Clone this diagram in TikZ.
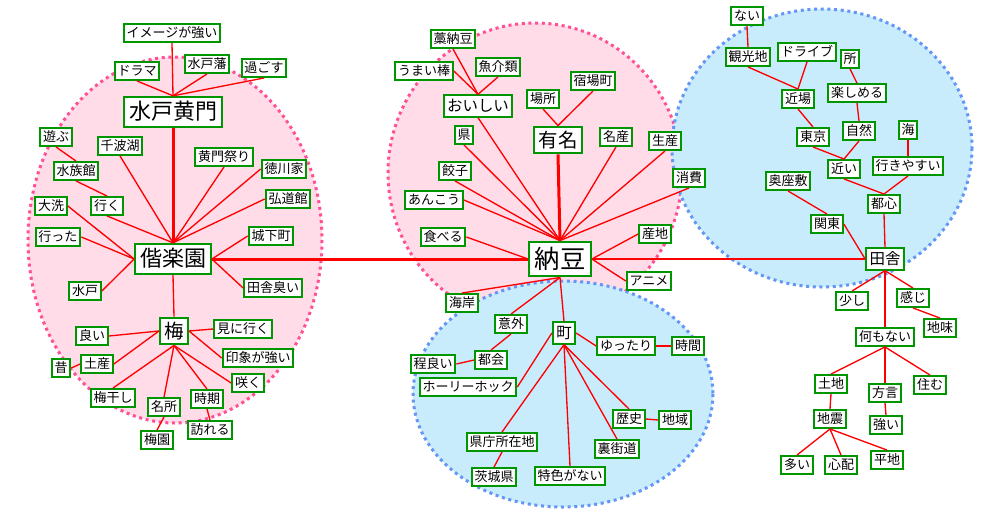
\documentclass[tikz,border=0pt]{standalone}
\usepackage{fontspec}
\setmainfont{Noto Sans CJK JP}
\usepackage{tikz}
\usetikzlibrary{shapes.geometric}
\definecolor{mygreen}{RGB}{0,150,0}
\definecolor{myred}{RGB}{255,0,0}
\definecolor{mypink}{RGB}{255,80,150}
\definecolor{myblue}{RGB}{100,150,245}
\definecolor{hdrpink}{RGB}{255,220,232}
\definecolor{hdrblue}{RGB}{200,236,252}
\tikzset{
  wordbox/.style={rectangle, draw=mygreen, fill=white, line width=1.5pt,
    font=\fontsize{#1}{#1}\selectfont, inner xsep=0.22*#1, inner ysep=0.19*#1,
    text height=0.86*#1, text depth=0.14*#1},
  word/.style={wordbox=9.75pt},
  subhub/.style={wordbox=11.6pt},
  hub/.style={wordbox=14.6pt},
  bighub/.style={wordbox=16.5pt},
  tophub/.style={wordbox=19pt},
  link/.style={color=myred, line width=1pt},
  strong/.style={color=myred, line width=2.25pt},
  pinkgroup/.style={draw=mypink, fill=hdrpink, line width=2.25pt,
    dash pattern=on 2.25pt off 2.75pt},
  bluegroup/.style={draw=myblue, fill=hdrblue, line width=2.25pt,
    dash pattern=on 2.25pt off 2.75pt}
}
\begin{document}
\begin{tikzpicture}[x=0.75pt, y=-0.75pt]
  % canvas
  \fill[white] (0,0) rectangle (1000,519);
  \useasboundingbox (0,0) rectangle (1000,519);

  % communities
  \draw[pinkgroup] (175,240) ellipse [x radius=147, y radius=183];
  \draw[pinkgroup] (535,173) ellipse [x radius=147, y radius=150];
  \draw[bluegroup] (822,148) ellipse [x radius=150, y radius=139];
  \draw[bluegroup] (563,394) ellipse [x radius=150, y radius=113];

  % left group
  \node[word] (ime) at (172,33) {イメージが強い};
  \node[word] (dorama) at (137,71) {ドラマ};
  \node[word] (mitohan) at (207,64) {水戸藩};
  \node[word] (sugosu) at (264,68) {過ごす};
  \node[bighub] (komon) at (173,112) {水戸黄門};
  \node[word] (asobu) at (56,137) {遊ぶ};
  \node[word] (senba) at (120,146) {千波湖};
  \node[word] (matsuri) at (224,157) {黄門祭り};
  \node[word] (tokugawa) at (284,169) {徳川家};
  \node[word] (suizoku) at (76,171) {水族館};
  \node[word] (oarai) at (51,206) {大洗};
  \node[word] (iku) at (107,206) {行く};
  \node[word] (kodokan) at (288,199) {弘道館};
  \node[word] (jokamachi) at (271,236) {城下町};
  \node[word] (itta) at (58,237) {行った};
  \node[bighub] (kairaku) at (173,259) {偕楽園};
  \node[word] (mito) at (85,291) {水戸};
  \node[word] (inakakusai) at (273,288) {田舎臭い};
  \node[hub] (ume) at (174,331) {梅};
  \node[word] (mini) at (243,329) {見に行く};
  \node[word] (yoi) at (92,336) {良い};
  \node[word] (insho) at (258,358) {印象が強い};
  \node[word] (mukashi) at (61,368) {昔};
  \node[word] (miyage) at (97,364) {土産};
  \node[word] (saku) at (248,383) {咲く};
  \node[word] (umeboshi) at (113,398) {梅干し};
  \node[word] (meisho) at (164,407) {名所};
  \node[word] (jiki) at (207,399) {時期};
  \node[word] (baien) at (157,440) {梅園};
  \node[word] (otozureru) at (210,430) {訪れる};

  % centre group
  \node[word] (wara) at (453,39) {藁納豆};
  \node[word] (umaibo) at (424,71) {うまい棒};
  \node[word] (gyokai) at (498,67) {魚介類};
  \node[word] (shukuba) at (593,81) {宿場町};
  \node[word] (basho) at (543,99) {場所};
  \node[subhub] (oishii) at (478,106) {おいしい};
  \node[word] (ken) at (464,135) {県};
  \node[hub] (yumei) at (558,140) {有名};
  \node[word] (meisan) at (616,137) {名産};
  \node[word] (seisan) at (665,141) {生産};
  \node[word] (gyoza) at (455,171) {餃子};
  \node[word] (shohi) at (689,178) {消費};
  \node[word] (anko) at (434,200) {あんこう};
  \node[word] (taberu) at (443,237) {食べる};
  \node[word] (sanchi) at (655,234) {産地};
  \node[tophub] (natto) at (560,259) {納豆};
  \node[word] (anime) at (649,281) {アニメ};
  \node[word] (kaigan) at (462,303) {海岸};
  \node[word] (igai) at (511,324) {意外};
  \node[subhub] (machi) at (564,333) {町};
  \node[word] (yuttari) at (626,346) {ゆったり};
  \node[word] (jikan) at (688,346) {時間};
  \node[word] (hodoyoi) at (433,364) {程良い};
  \node[word] (tokai) at (491,360) {都会};
  \node[word] (hollyhock) at (468,387) {ホーリーホック};
  \node[word] (rekishi) at (629,419) {歴史};
  \node[word] (chiiki) at (675,420) {地域};
  \node[word] (kencho) at (502,442) {県庁所在地};
  \node[word] (uramichi) at (617,449) {裏街道};
  \node[word] (tokushoku) at (570,476) {特色がない};
  \node[word] (ibaraki) at (494,477) {茨城県};

  % right group
  \node[word] (nai) at (747,16) {ない};
  \node[word] (kanko) at (748,57) {観光地};
  \node[word] (drive) at (807,52) {ドライブ};
  \node[word] (tokoro) at (850,59) {所};
  \node[word] (chikaba) at (798,99) {近場};
  \node[word] (tanoshimu) at (857,93) {楽しめる};
  \node[word] (tokyo) at (813,137) {東京};
  \node[word] (shizen) at (859,131) {自然};
  \node[word] (umi) at (908,130) {海};
  \node[word] (chikai) at (844,169) {近い};
  \node[word] (ikiyasui) at (908,166) {行きやすい};
  \node[word] (okuzashiki) at (788,181) {奥座敷};
  \node[word] (toshin) at (884,204) {都心};
  \node[word] (kanto) at (827,224) {関東};
  \node[subhub] (inaka) at (885,259) {田舎};
  \node[word] (sukoshi) at (852,301) {少し};
  \node[word] (kanji) at (913,298) {感じ};
  \node[word] (jimi) at (940,328) {地味};
  \node[word] (nanimo) at (885,337) {何もない};
  \node[word] (tochi) at (831,384) {土地};
  \node[word] (hogen) at (885,393) {方言};
  \node[word] (sumu) at (930,385) {住む};
  \node[word] (jishin) at (830,419) {地震};
  \node[word] (tsuyoi) at (886,425) {強い};
  \node[word] (ooi) at (797,465) {多い};
  \node[word] (shinpai) at (841,465) {心配};
  \node[word] (heichi) at (887,460) {平地};

  % links between groups
  \draw[strong] (natto.west) -- (kairaku.east);
  \draw[link] (natto.east) -- (inaka.west);

  % left group links
  \foreach \w in {ime,dorama,mitohan,sugosu}
    \draw[link] (\w.south) -- (komon.north);
  \draw[strong] (komon.south) -- (kairaku.north);
  \draw[link] (asobu.south) -- (suizoku.north);
  \draw[link] (suizoku.south) -- (iku.north);
  \foreach \w in {senba,iku,matsuri}
    \draw[link] (\w.south) -- (kairaku.north);
  \foreach \w in {tokugawa,kodokan}
    \draw[link] (\w.west) -- (kairaku.north);
  \foreach \w in {oarai,itta,mito}
    \draw[link] (\w.east) -- (kairaku.west);
  \foreach \w in {jokamachi,inakakusai}
    \draw[link] (\w.west) -- (kairaku.east);
  \draw[link] (kairaku.south) -- (ume.north);
  \foreach \w in {yoi,miyage}
    \draw[link] (\w.east) -- (ume.west);
  \draw[link] (mukashi.east) -- (miyage.west);
  \foreach \w in {mini,insho}
    \draw[link] (\w.west) -- (ume.east);
  \foreach \w in {umeboshi,meisho,jiki}
    \draw[link] (ume.south) -- (\w.north);
  \draw[link] (ume.south) -- (saku.west);
  \draw[link] (meisho.south) -- (baien.north);
  \draw[link] (jiki.south) -- (otozureru.north);

  % centre group links
  \foreach \w in {wara,gyokai}
    \draw[link] (\w.south) -- (oishii.north);
  \draw[link] (umaibo.east) -- (oishii.north);
  \foreach \w in {basho,shukuba}
    \draw[link] (\w.south) -- (yumei.north);
  \draw[strong] (yumei.south) -- (natto.north);
  \foreach \w in {oishii,ken,gyoza,meisan,seisan,shohi}
    \draw[link] (\w.south) -- (natto.north);
  \draw[link] (anko.east) -- (natto.north);
  \draw[link] (taberu.east) -- (natto.west);
  \foreach \w in {sanchi,anime}
    \draw[link] (\w.west) -- (natto.east);
  \foreach \w in {kaigan,igai,machi}
    \draw[link] (natto.south) -- (\w.north);
  \draw[link] (igai.south) -- (tokai.north);
  \draw[link] (hodoyoi.east) -- (tokai.west);
  \draw[link] (hollyhock.east) -- (machi.west);
  \draw[link] (yuttari.west) -- (machi.east);
  \draw[link] (jikan.west) -- (yuttari.east);
  \foreach \w in {kencho,tokushoku,uramichi,rekishi}
    \draw[link] (machi.south) -- (\w.north);
  \draw[link] (chiiki.west) -- (rekishi.east);
  \draw[link] (kencho.south) -- (ibaraki.north);

  % right group links
  \draw[link] (nai.south) -- (kanko.north);
  \foreach \w in {kanko,drive}
    \draw[link] (\w.south) -- (chikaba.north);
  \draw[link] (tokoro.south) -- (tanoshimu.north);
  \draw[link] (chikaba.south) -- (tokyo.north);
  \draw[link] (tanoshimu.south) -- (shizen.north);
  \foreach \w in {tokyo,shizen}
    \draw[link] (\w.south) -- (chikai.north);
  \draw[link] (umi.south) -- (ikiyasui.north);
  \foreach \w in {chikai,ikiyasui}
    \draw[link] (\w.south) -- (toshin.north);
  \draw[link] (okuzashiki.south) -- (kanto.north);
  \draw[link] (kanto.east) -- (inaka.west);
  \draw[link] (toshin.south) -- (inaka.north);
  \foreach \w in {sukoshi,kanji,nanimo}
    \draw[link] (inaka.south) -- (\w.north);
  \draw[link] (kanji.south) -- (jimi.north);
  \foreach \w in {tochi,hogen,sumu}
    \draw[link] (nanimo.south) -- (\w.north);
  \draw[link] (tochi.south) -- (jishin.north);
  \draw[link] (hogen.south) -- (tsuyoi.north);
  \foreach \w in {ooi,shinpai,heichi}
    \draw[link] (jishin.south) -- (\w.north);
\end{tikzpicture}
\end{document}
